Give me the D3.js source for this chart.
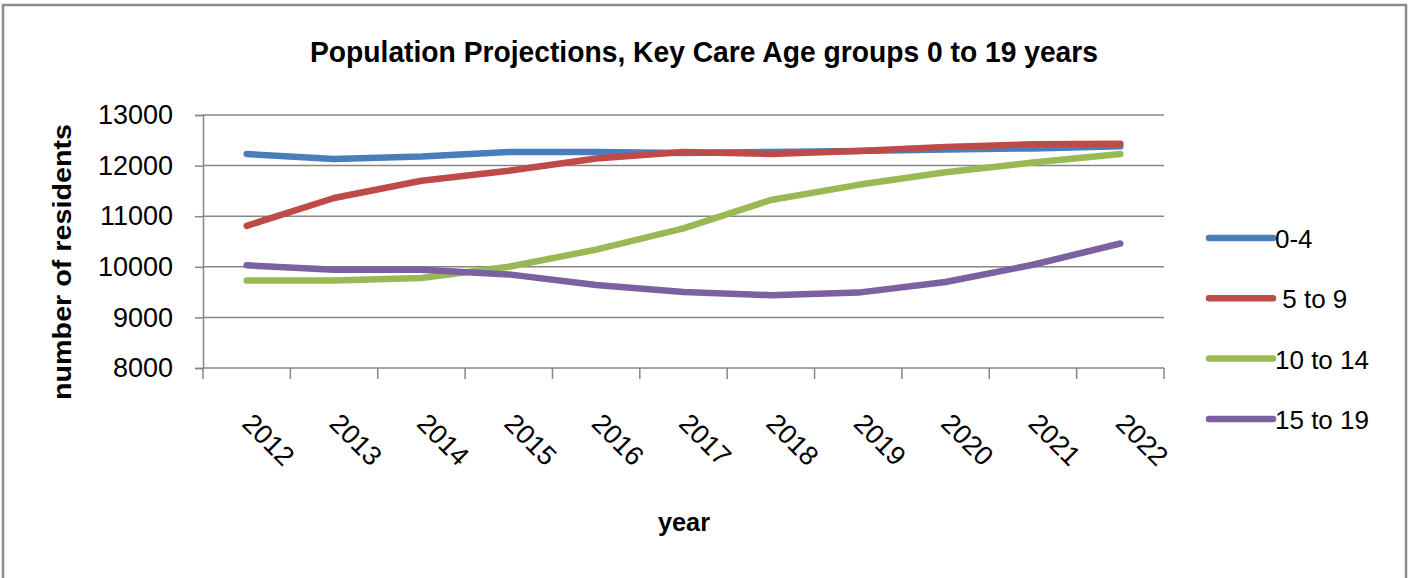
<!DOCTYPE html>
<html>
<head>
<meta charset="utf-8">
<script src="https://cdn.jsdelivr.net/npm/d3@7"></script>
<style>
  html, body { margin: 0; padding: 0; background: #fff; }
  svg { display: block; }
  text { font-family: "Liberation Sans", Arial, sans-serif; fill: #000; }
</style>
</head>
<body>
<svg id="chart" width="1410" height="578"></svg>
<script>
const years = ["2012","2013","2014","2015","2016","2017","2018","2019","2020","2021","2022"];
const seriesNames = ["0-4", " 5 to 9", "10 to 14", "15 to 19"];
const age0to4   = [12230, 12130, 12180, 12270, 12270, 12250, 12270, 12290, 12320, 12340, 12380];
const age5to9   = [10810, 11360, 11700, 11900, 12140, 12270, 12230, 12290, 12370, 12420, 12430];
const age10to14 = [9730, 9730, 9780, 10000, 10340, 10760, 11320, 11620, 11870, 12060, 12230];
const age15to19 = [10030, 9940, 9940, 9850, 9640, 9500, 9440, 9490, 9700, 10040, 10460];
const yTicks = [8000, 9000, 10000, 11000, 12000, 13000];
const colors = ["#4A7EBB", "#BE4B48", "#98B954", "#7D60A0"];

const title = "Population Projections, Key Care Age groups 0 to 19 years";
const yTitle = "number of residents";
const xTitle = "year";

(function () {
const svg = d3.select("#chart");
const allSeries = [age0to4, age5to9, age10to14, age15to19];

// frame
svg.append("rect").attr("x", 3).attr("y", 5).attr("width", 1403).attr("height", 600)
  .attr("fill", "none").attr("stroke", "#8c8c8c").attr("stroke-width", 2.5);

const pLeft = 203, pRight = 1164, pTop = 115, pBottom = 368;
const x = d3.scaleBand().domain(years).range([pLeft, pRight]).paddingInner(0).paddingOuter(0);
const y = d3.scaleLinear().domain([8000, 13000]).range([pBottom, pTop]);

const gridColor = "#868686";

// gridlines
svg.append("g").selectAll("line").data(yTicks.slice(1)).join("line")
  .attr("x1", pLeft).attr("x2", pRight)
  .attr("y1", d => y(d)).attr("y2", d => y(d))
  .attr("stroke", gridColor).attr("stroke-width", 1.5);

// y axis
const yAxis = svg.append("g").attr("transform", `translate(${pLeft},0)`)
  .call(d3.axisLeft(y).tickValues(yTicks).tickSize(8).tickPadding(22).tickFormat(d3.format("d")));
yAxis.select(".domain").attr("stroke", gridColor).attr("stroke-width", 1.5);
yAxis.selectAll(".tick line").attr("stroke", gridColor).attr("stroke-width", 1.5);
yAxis.selectAll("text").attr("font-size", 27).attr("fill", "#000")
  .attr("font-family", "Liberation Sans, Arial, sans-serif");

// x axis line + boundary ticks
const xg = svg.append("g").attr("transform", `translate(0,${pBottom})`);
xg.append("line").attr("x1", pLeft).attr("x2", pRight).attr("y1", 0).attr("y2", 0)
  .attr("stroke", gridColor).attr("stroke-width", 1.5);
const boundaries = years.map(d => x(d)).concat([pRight]);
xg.selectAll("line.tk").data(boundaries).join("line").attr("class", "tk")
  .attr("x1", d => d).attr("x2", d => d).attr("y1", 0).attr("y2", 11)
  .attr("stroke", gridColor).attr("stroke-width", 1.5);

// x tick labels rotated 45
svg.append("g").selectAll("text").data(years).join("text")
  .attr("transform", d => `translate(${x(d) + x.bandwidth() / 2 - 6},425) rotate(45)`)
  .attr("font-size", 27).attr("text-anchor", "start")
  .text(d => d);

// lines
const line = d3.line().x((d, i) => x(years[i]) + x.bandwidth() / 2).y(d => y(d));
svg.append("g").selectAll("path").data(allSeries).join("path")
  .attr("d", d => line(d))
  .attr("fill", "none")
  .attr("stroke", (d, i) => colors[i])
  .attr("stroke-width", 6.5)
  .attr("stroke-linecap", "round")
  .attr("stroke-linejoin", "round");

// title
svg.append("text").attr("x", 704).attr("y", 62).attr("text-anchor", "middle")
  .attr("font-size", 29).attr("font-weight", "bold")
  .attr("textLength", 788).attr("lengthAdjust", "spacingAndGlyphs")
  .text(title);

// y title
svg.append("text").attr("transform", "translate(71,262) rotate(-90)")
  .attr("text-anchor", "middle").attr("font-size", 25).attr("font-weight", "bold")
  .attr("textLength", 276).attr("lengthAdjust", "spacingAndGlyphs")
  .text(yTitle);

// x title
svg.append("text").attr("x", 684).attr("y", 531).attr("text-anchor", "middle")
  .attr("font-size", 25).attr("font-weight", "bold")
  .attr("textLength", 52).attr("lengthAdjust", "spacingAndGlyphs")
  .text(xTitle);

// legend
const lg = svg.append("g").selectAll("g").data(seriesNames).join("g")
  .attr("transform", (d, i) => `translate(1209,${238 + i * 60.3})`);
lg.append("line").attr("x1", 0).attr("x2", 64).attr("y1", 0).attr("y2", 0)
  .attr("stroke", (d, i) => colors[i]).attr("stroke-width", 6.5).attr("stroke-linecap", "round");
lg.append("text").attr("x", 66).attr("y", 10).attr("font-size", 26)
  .attr("xml:space", "preserve").style("white-space", "pre")
  .text(d => d);
})();
</script>
</body>
</html>
